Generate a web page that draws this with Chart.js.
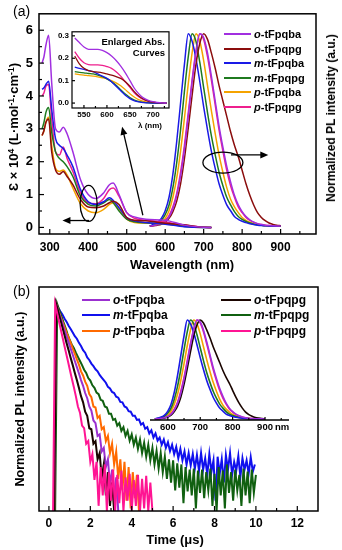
<!DOCTYPE html>
<html>
<head>
<meta charset="utf-8">
<script src="https://cdn.jsdelivr.net/npm/chart.js@4.4.0/dist/chart.umd.min.js"></script>
<style>
body { margin: 0; background: #fff; font-family: "Liberation Sans", Arial, sans-serif; }
#wrap { position: relative; width: 342px; height: 550px; overflow: hidden; }
canvas { position: absolute; }
.t { position: absolute; white-space: nowrap; color: #000; }
.b { font-weight: bold; }
.rot { transform: translate(-50%, -50%) rotate(-90deg); }
.ctr { transform: translate(-50%, -50%); }
.leg { position: absolute; font-weight: bold; white-space: nowrap; display: flex; align-items: center; transform: translateY(-50%); }
sup { font-size: 65%; vertical-align: 0; position: relative; top: -0.5em; }
</style>
</head>
<body>
<div id="wrap">
  <canvas id="absChart" width="342" height="275" style="left:0;top:0"></canvas>
  <canvas id="insetA" width="128" height="106" style="left:50px;top:24px"></canvas>
  <canvas id="decayChart" width="342" height="275" style="left:0;top:275px"></canvas>
  <canvas id="insetB" width="160" height="130" style="left:140px;top:310px"></canvas>

  <div class="t" style="left:13px;top:3px;font-size:14px">(a)</div>
  <div class="t" style="left:13px;top:283px;font-size:14px">(b)</div>
  <div class="t b rot" style="left:13px;top:127px;font-size:13px">Ɛ × 10<sup>4</sup> (L·mol<sup>-1</sup>·cm<sup>-1</sup>)</div>
  <div class="t b rot" style="left:331px;top:118px;font-size:12px">Normalized PL intensity (a.u.)</div>
  <div class="t b ctr" style="left:182px;top:264px;font-size:13px">Wavelength (nm)</div>
  <div class="t b rot" style="left:20px;top:399px;font-size:12.5px">Normalized PL intensity (a.u.)</div>
  <div class="t b ctr" style="left:175px;top:539px;font-size:13px">Time (μs)</div>
  <div class="t b" style="right:177px;top:36px;font-size:9.5px;text-align:right;line-height:11px">Enlarged Abs.<br>Curves</div>
  <div class="t b ctr" style="left:150px;top:125px;font-size:8px">λ (nm)</div>
  <div class="t b" style="left:275px;top:421px;font-size:9.5px">nm</div>
</div>
<script>
const names = ['o-tFpqba', 'o-tFpqpg', 'm-tFpqba', 'm-tFpqpg', 'p-tFpqba', 'p-tFpqpg'];
const colorsA = ['#a12fe0', '#8b0d0d', '#1a1ae6', '#1f7a1f', '#f5a300', '#ee1f8d'];
const colorsB = ['#9b30d0', '#1a0500', '#1010ee', '#106010', '#ff6a00', '#ff1493'];
const colorsInsetB = ['#a12fe0', '#1a0500', '#1a1ae6', '#1f7a1f', '#f5a300', '#ee1f8d'];

// absorption, main panel (a)
const absWl = [280, 285, 290, 297, 305, 315, 325, 335, 345, 360, 380, 400, 420, 440, 455, 465, 480, 500, 520, 550, 600, 650, 700, 720];
const absOba = [5.0, 5.2, 5.55, 5.85, 4.4, 3.0, 2.9, 3.05, 2.85, 2.3, 1.45, 1.0, 0.88, 1.05, 1.3, 1.35, 1.0, 0.45, 0.32, 0.25, 0.22, 0.07, 0.005, 0];
const absOpg = [2.8, 2.95, 3.2, 3.3, 2.3, 1.75, 1.62, 1.7, 1.55, 1.3, 0.85, 0.62, 0.6, 0.65, 0.75, 0.8, 0.7, 0.3, 0.22, 0.2, 0.13, 0.08, 0.005, 0];
const absMba = [4.2, 4.25, 4.35, 4.45, 3.6, 2.7, 2.5, 2.4, 2.2, 1.85, 1.15, 0.78, 0.7, 0.78, 0.9, 0.82, 0.6, 0.3, 0.2, 0.15, 0.1, 0.02, 0, 0];
const absMpg = [3.0, 3.2, 3.5, 3.65, 2.9, 2.3, 2.1, 2.0, 1.85, 1.55, 0.95, 0.7, 0.65, 0.75, 0.85, 0.75, 0.5, 0.25, 0.17, 0.14, 0.11, 0.03, 0, 0];
const absPba = [2.8, 2.95, 3.2, 3.35, 2.5, 1.8, 1.7, 1.75, 1.6, 1.2, 0.72, 0.5, 0.45, 0.55, 0.7, 0.75, 0.55, 0.25, 0.15, 0.13, 0.11, 0.05, 0.003, 0];
const absPpg = [4.0, 4.1, 4.3, 4.35, 3.3, 2.3, 2.2, 2.45, 2.1, 1.7, 1.05, 0.75, 0.72, 0.88, 1.15, 1.2, 0.95, 0.45, 0.28, 0.22, 0.16, 0.07, 0.005, 0];
const absData = [absOba, absOpg, absMba, absMpg, absPba, absPpg];

// normalized PL spectra (panel a and inset of panel b)
const plWl = [560, 570, 580, 590, 600, 610, 620, 630, 640, 650, 660, 670, 680, 690, 700, 710, 720, 730, 740, 750, 760, 770, 780, 790, 800, 810, 820, 830, 840, 850, 860, 870, 880, 890, 900];
const plOba = [0, 0.003, 0.007, 0.013, 0.025, 0.048, 0.09, 0.16, 0.26, 0.4, 0.57, 0.75, 0.9, 1.0, 0.98, 0.9, 0.78, 0.65, 0.52, 0.41, 0.31, 0.23, 0.16, 0.11, 0.075, 0.05, 0.033, 0.021, 0.013, 0.008, 0.005, 0.003, 0.002, 0.001, 0];
const plOpg = [0, 0.002, 0.005, 0.01, 0.02, 0.04, 0.075, 0.13, 0.22, 0.35, 0.51, 0.68, 0.84, 0.95, 1.0, 0.97, 0.9, 0.82, 0.73, 0.65, 0.57, 0.49, 0.42, 0.36, 0.29, 0.22, 0.16, 0.11, 0.07, 0.045, 0.028, 0.016, 0.009, 0.004, 0.002];
const plMba = [0, 0.01, 0.02, 0.04, 0.08, 0.15, 0.27, 0.44, 0.64, 0.84, 1.0, 0.96, 0.87, 0.75, 0.62, 0.5, 0.39, 0.3, 0.22, 0.16, 0.11, 0.08, 0.05, 0.035, 0.025, 0.018, 0.012, 0.008, 0.005, 0.003, 0.002, 0.001, 0, 0, 0];
const plMpg = [0, 0.005, 0.015, 0.03, 0.06, 0.11, 0.2, 0.33, 0.5, 0.7, 0.88, 1.0, 0.96, 0.85, 0.72, 0.59, 0.47, 0.37, 0.28, 0.21, 0.15, 0.11, 0.075, 0.05, 0.035, 0.024, 0.016, 0.01, 0.006, 0.004, 0.002, 0.001, 0, 0, 0];
const plPba = [0, 0.004, 0.01, 0.02, 0.04, 0.08, 0.15, 0.25, 0.39, 0.56, 0.74, 0.9, 1.0, 0.96, 0.86, 0.73, 0.6, 0.48, 0.37, 0.28, 0.2, 0.14, 0.1, 0.07, 0.045, 0.03, 0.02, 0.013, 0.008, 0.005, 0.003, 0.001, 0, 0, 0];
const plPpg = [0, 0.003, 0.008, 0.015, 0.03, 0.055, 0.1, 0.17, 0.28, 0.42, 0.59, 0.76, 0.91, 1.0, 0.97, 0.88, 0.76, 0.63, 0.5, 0.39, 0.29, 0.21, 0.15, 0.1, 0.07, 0.045, 0.03, 0.02, 0.012, 0.008, 0.005, 0.003, 0.002, 0.001, 0];
const plData = [plOba, plOpg, plMba, plMpg, plPba, plPpg];

// enlarged absorption (inset of a)
const insetWl = [530, 540, 550, 560, 570, 580, 590, 600, 610, 620, 630, 640, 650, 660, 670, 680, 690, 700, 710, 720, 730];
const insOba = [0.29, 0.27, 0.25, 0.24, 0.24, 0.24, 0.235, 0.225, 0.21, 0.19, 0.165, 0.135, 0.1, 0.065, 0.04, 0.022, 0.012, 0.006, 0.003, 0.001, 0];
const insOpg = [0.21, 0.175, 0.155, 0.145, 0.14, 0.138, 0.135, 0.13, 0.125, 0.118, 0.11, 0.095, 0.075, 0.05, 0.03, 0.017, 0.009, 0.004, 0.002, 0.001, 0];
const insMba = [0.16, 0.155, 0.15, 0.145, 0.14, 0.13, 0.12, 0.11, 0.095, 0.075, 0.055, 0.035, 0.02, 0.01, 0.005, 0.002, 0.001, 0, 0, 0, 0];
const insMpg = [0.14, 0.137, 0.135, 0.132, 0.13, 0.125, 0.118, 0.108, 0.095, 0.08, 0.06, 0.04, 0.025, 0.013, 0.006, 0.003, 0.001, 0, 0, 0, 0];
const insPba = [0.13, 0.127, 0.125, 0.122, 0.12, 0.117, 0.113, 0.108, 0.1, 0.09, 0.077, 0.06, 0.042, 0.026, 0.014, 0.007, 0.003, 0.001, 0, 0, 0];
const insPpg = [0.23, 0.2, 0.18, 0.172, 0.17, 0.17, 0.168, 0.163, 0.155, 0.14, 0.12, 0.095, 0.07, 0.045, 0.027, 0.015, 0.008, 0.004, 0.002, 0.001, 0];
const insData = [insOba, insOpg, insMba, insMpg, insPba, insPpg];

// PL decays (b): log10 of counts, one sample every 0.1 us from the start time
const decayStep = 0.1;
const decayStart = [0.25, 0.25, 0.25, 0.3, 0.25, 0.2];
const decOba = [0, 4.00, 3.87, 3.75, 3.63, 3.50, 3.38, 3.26, 3.14, 3.02, 2.90, 2.78, 2.66, 2.53, 2.42, 2.28, 2.18, 2.02, 1.94, 1.75, 1.70, 1.45, 1.48, 1.15, 1.22, 0.85, 1.00, 0.50, 0.80, 0.20, 0.65, 0];
const decOpg = [0, 4.00, 3.85, 3.70, 3.55, 3.40, 3.25, 3.11, 2.96, 2.82, 2.67, 2.53, 2.38, 2.22, 2.10, 1.92, 1.84, 1.60, 1.58, 1.30, 1.35, 1.00, 1.12, 0.65, 0.90, 0.30, 0.75, 0.10, 0.55, 0];
const decMba = [0, 4.00, 3.93, 3.86, 3.80, 3.72, 3.66, 3.58, 3.52, 3.45, 3.38, 3.33, 3.25, 3.19, 3.11, 3.06, 2.97, 2.92, 2.85, 2.80, 2.74, 2.70, 2.63, 2.58, 2.53, 2.48, 2.40, 2.37, 2.30, 2.28, 2.21, 2.19, 2.11, 2.10, 2.02, 2.00, 1.93, 1.92, 1.84, 1.84, 1.76, 1.77, 1.67, 1.70, 1.59, 1.62, 1.50, 1.56, 1.42, 1.50, 1.36, 1.42, 1.28, 1.38, 1.22, 1.33, 1.16, 1.28, 1.10, 1.24, 1.02, 1.20, 0.98, 1.15, 0.90, 1.12, 0.88, 1.10, 0.82, 1.08, 0.78, 1.12, 0.80, 1.02, 0.70, 1.10, 0.76, 0.98, 0.20, 1.05, 0.72, 1.00, 0.55, 1.08, 0.80, 1.12, 0.70, 0.95, 0.78, 1.06, 0.66, 1.02, 0.80, 0.98, 0.72, 1.04, 0.76, 0.90];
const decMpg = [0, 4.00, 3.88, 3.77, 3.65, 3.54, 3.42, 3.31, 3.22, 3.15, 3.06, 2.98, 2.90, 2.82, 2.73, 2.67, 2.57, 2.52, 2.43, 2.38, 2.29, 2.26, 2.15, 2.13, 2.02, 2.00, 1.88, 1.88, 1.76, 1.78, 1.65, 1.70, 1.55, 1.62, 1.45, 1.55, 1.36, 1.48, 1.28, 1.42, 1.20, 1.38, 1.12, 1.32, 1.05, 1.28, 0.98, 1.22, 0.90, 1.16, 0.82, 1.12, 0.75, 1.05, 0.62, 1.00, 0.55, 0.98, 0.40, 0.92, 0.45, 0.90, 0.15, 0.85, 0.38, 0.80, 0.30, 0.82, 0.05, 0.78, 0.35, 0.80, 0.25, 0.75, 0.40, 0.82, 0.10, 0.72, 0, 0.85, 0.30, 0.78, 0.05, 0.90, 0.35, 0.75, 0.20, 0.80, 0.40, 0.70, 0.10, 0.82, 0.30, 0.76, 0.15, 0.80, 0.35, 0.70];
const decPba = [0, 4.00, 3.88, 3.77, 3.66, 3.56, 3.45, 3.35, 3.25, 3.14, 3.04, 2.93, 2.83, 2.70, 2.62, 2.50, 2.42, 2.26, 2.20, 2.02, 2.00, 1.80, 1.84, 1.58, 1.62, 1.35, 1.45, 1.12, 1.30, 0.90, 1.15, 0.62, 1.00, 0.40, 0.95, 0.20, 0.85, 0.05, 0.75, 0.25, 0.70, 0];
const decPpg = [0, 4.00, 3.82, 3.64, 3.46, 3.28, 3.10, 2.93, 2.75, 2.57, 2.40, 2.22, 2.02, 1.90, 1.65, 1.60, 1.30, 1.35, 0.95, 1.10, 0.60, 0.95, 0.10, 0.85, 0.30, 0.90, 0, 0.75, 0.20, 0.80, 0, 0.70, 0.15, 0.78, 0, 0.65, 0.20, 0.72, 0, 0.60, 0.10, 0.70, 0, 0.62, 0.05, 0.68, 0, 0.55, 0];
const decData = [decOba, decOpg, decMba, decMpg, decPba, decPpg];
const decayOrder = [2, 1, 5, 4, 3, 0]; // pink on top, blue at the back

const ticksA = [300, 400, 500, 600, 700, 800, 900];
const ticksAy = [0, 1, 2, 3, 4, 5, 6];
const ticksInsetX = [550, 600, 650, 700];
const ticksInsetY = [0, 0.1, 0.2, 0.3];
const ticksB = [0, 2, 4, 6, 8, 10, 12];
const ticksInsetB = [600, 700, 800, 900];

Chart.defaults.font.family = '"Liberation Sans", Arial, sans-serif';
Chart.defaults.color = '#000';

const xy = (xs, ys) => ys.map((v, i) => ({ x: xs[i], y: v }));
const noGrid = { display: false, drawTicks: false };

// box + inward ticks
const frame = {
  id: 'frame',
  afterDatasetsDraw(chart, args, o) {
    const { ctx, chartArea: a, scales } = chart;
    ctx.save();
    ctx.strokeStyle = '#000';
    ctx.lineWidth = o.lw || 1.5;
    if (o.box) ctx.strokeRect(a.left, a.top, a.right - a.left, a.bottom - a.top);
    else { ctx.beginPath(); ctx.moveTo(a.left, a.bottom); ctx.lineTo(a.right, a.bottom); ctx.stroke(); }
    ctx.lineWidth = 1.2;
    const seg = (x1, y1, x2, y2) => { ctx.beginPath(); ctx.moveTo(x1, y1); ctx.lineTo(x2, y2); ctx.stroke(); };
    (o.xMajor || []).forEach(v => { const x = scales.x.getPixelForValue(v); seg(x, a.bottom, x, a.bottom - o.major); });
    (o.xMinor || []).forEach(v => { const x = scales.x.getPixelForValue(v); seg(x, a.bottom, x, a.bottom - o.minor); });
    (o.yMajor || []).forEach(v => { const y = scales.y.getPixelForValue(v); seg(a.left, y, a.left + o.major, y); });
    (o.yMinor || []).forEach(v => { const y = scales.y.getPixelForValue(v); seg(a.left, y, a.left + o.minor, y); });
    ctx.restore();
  }
};

// ellipses and arrows of panel (a)
const marks = {
  id: 'marks',
  afterDatasetsDraw(chart, args, o) {
    if (!o.ellipses) return;
    const { ctx, scales } = chart;
    ctx.save();
    ctx.strokeStyle = '#000';
    ctx.fillStyle = '#000';
    ctx.lineWidth = 1.3;
    o.ellipses.forEach(e => {
      const cx = scales.x.getPixelForValue(e.x), cy = scales[e.axis].getPixelForValue(e.y);
      ctx.beginPath(); ctx.ellipse(cx, cy, e.rx, e.ry, 0, 0, Math.PI * 2); ctx.stroke();
    });
    o.arrows.forEach(r => {
      const x1 = scales.x.getPixelForValue(r.x1), y1 = scales[r.axis].getPixelForValue(r.y1);
      const x2 = scales.x.getPixelForValue(r.x2), y2 = scales[r.axis].getPixelForValue(r.y2);
      const ang = Math.atan2(y2 - y1, x2 - x1);
      ctx.beginPath(); ctx.moveTo(x1, y1); ctx.lineTo(x2 - 6 * Math.cos(ang), y2 - 6 * Math.sin(ang)); ctx.stroke();
      ctx.beginPath();
      ctx.moveTo(x2, y2);
      ctx.lineTo(x2 - 8 * Math.cos(ang) + 3.5 * Math.sin(ang), y2 - 8 * Math.sin(ang) - 3.5 * Math.cos(ang));
      ctx.lineTo(x2 - 8 * Math.cos(ang) - 3.5 * Math.sin(ang), y2 - 8 * Math.sin(ang) + 3.5 * Math.cos(ang));
      ctx.closePath(); ctx.fill();
    });
    ctx.restore();
  }
};

const lineDs = (data, color, width, extra) => Object.assign({
  data, borderColor: color, borderWidth: width, pointRadius: 0, fill: false,
  cubicInterpolationMode: 'monotone'
}, extra || {});

// panel (a)
const dsA = [];
absData.forEach((ys, i) => dsA.push(lineDs(xy(absWl, ys), colorsA[i], 1.5, { yAxisID: 'y' })));
plData.forEach((ys, i) => dsA.push(lineDs(xy(plWl, ys), colorsA[i], 1.5, { yAxisID: 'y2' })));

new Chart(document.getElementById('absChart'), {
  type: 'line',
  data: { datasets: dsA },
  plugins: [frame, marks],
  options: {
    responsive: false, animation: false, events: [],
    layout: { padding: { top: 12, right: 0, left: 0, bottom: 0 } },
    plugins: {
      legend: { display: false }, tooltip: { enabled: false },
      frame: { box: true, major: 5, minor: 3,
        xMajor: ticksA, xMinor: [350, 450, 550, 650, 750, 850, 950],
        yMajor: ticksAy, yMinor: [0.5, 1.5, 2.5, 3.5, 4.5, 5.5] },
      marks: {
        ellipses: [
          { x: 401, y: 0.73, axis: 'y', rx: 8.5, ry: 18 },
          { x: 750, y: 0.33, axis: 'y2', rx: 20, ry: 10.5 }
        ],
        arrows: [
          { x1: 402, y1: 0.21, x2: 333, y2: 0.21, axis: 'y' },
          { x1: 771, y1: 0.37, x2: 868, y2: 0.37, axis: 'y2' },
          { x1: 542, y1: 0.37, x2: 488, y2: 3.06, axis: 'y' }
        ]
      }
    },
    scales: {
      x: { type: 'linear', min: 272, max: 992,
        grid: noGrid, border: { display: false },
        afterBuildTicks: s => { s.ticks = ticksA.map(v => ({ value: v })); },
        afterFit: s => { s.height = 41; },
        ticks: { font: { size: 12, weight: 'bold' }, padding: 6, maxRotation: 0 } },
      y: { min: -0.2, max: 6.5, position: 'left',
        grid: noGrid, border: { display: false },
        afterBuildTicks: s => { s.ticks = ticksAy.map(v => ({ value: v })); },
        afterFit: s => { s.width = 39; },
        ticks: { font: { size: 13, weight: 'bold' }, padding: 6 } },
      y2: { min: -0.041, max: 1.103, position: 'right',
        grid: noGrid, border: { display: false },
        afterFit: s => { s.width = 26; },
        ticks: { display: false } }
    }
  }
});

// inset of (a)
new Chart(document.getElementById('insetA'), {
  type: 'line',
  data: { datasets: insData.map((ys, i) => lineDs(xy(insetWl, ys), colorsA[i], 1.3)) },
  plugins: [frame],
  options: {
    responsive: false, animation: false, events: [],
    layout: { padding: { top: 7, right: 9, left: 0, bottom: 0 } },
    plugins: { legend: { display: false }, tooltip: { enabled: false },
      frame: { box: true, lw: 1.2, major: 3, minor: 2, xMajor: ticksInsetX, xMinor: [575, 625, 675, 725], yMajor: ticksInsetY } },
    scales: {
      x: { type: 'linear', min: 524, max: 735,
        grid: noGrid, border: { display: false },
        afterBuildTicks: s => { s.ticks = ticksInsetX.map(v => ({ value: v })); },
        afterFit: s => { s.height = 22; },
        ticks: { font: { size: 8, weight: 'bold' }, padding: 2, maxRotation: 0 } },
      y: { min: -0.022, max: 0.318,
        grid: noGrid, border: { display: false },
        afterBuildTicks: s => { s.ticks = ticksInsetY.map(v => ({ value: v })); },
        afterFit: s => { s.width = 22; },
        ticks: { font: { size: 8, weight: 'bold' }, padding: 3, callback: v => v.toFixed(1) } }
    }
  }
});

// panel (b)
const dsB = decData.map((ys, i) => lineDs(
  ys.map((v, k) => ({ x: decayStart[i] + k * decayStep, y: v })),
  colorsB[i], 2, { order: decayOrder[i], cubicInterpolationMode: 'default', tension: 0 }));

new Chart(document.getElementById('decayChart'), {
  type: 'line',
  data: { datasets: dsB },
  plugins: [frame],
  options: {
    responsive: false, animation: false, events: [],
    layout: { padding: { top: 12, right: 24, left: 0, bottom: 0 } },
    plugins: { legend: { display: false }, tooltip: { enabled: false },
      frame: { box: true, major: 5, minor: 3, xMajor: ticksB, xMinor: [1, 3, 5, 7, 9, 11] } },
    scales: {
      x: { type: 'linear', min: -0.48, max: 13.0,
        grid: noGrid, border: { display: false },
        afterBuildTicks: s => { s.ticks = ticksB.map(v => ({ value: v })); },
        afterFit: s => { s.height = 39; },
        ticks: { font: { size: 12, weight: 'bold' }, padding: 5, maxRotation: 0 } },
      y: { min: 0, max: 4.33,
        grid: noGrid, border: { display: false },
        afterFit: s => { s.width = 39; },
        ticks: { display: false } }
    }
  }
});

// inset of (b)
new Chart(document.getElementById('insetB'), {
  type: 'line',
  data: { datasets: plData.map((ys, i) => lineDs(xy(plWl, ys), colorsInsetB[i], 1.6)) },
  plugins: [frame],
  options: {
    responsive: false, animation: false, events: [],
    layout: { padding: { top: 8, right: 11, left: 10, bottom: 0 } },
    plugins: { legend: { display: false }, tooltip: { enabled: false },
      frame: { box: false, lw: 1.3, major: 3, minor: 2, xMajor: ticksInsetB, xMinor: [650, 750, 850, 950] } },
    scales: {
      x: { type: 'linear', min: 545, max: 974,
        grid: noGrid, border: { display: false },
        afterBuildTicks: s => { s.ticks = ticksInsetB.map(v => ({ value: v })); },
        afterFit: s => { s.height = 20; },
        ticks: { font: { size: 9.5, weight: 'bold' }, padding: 2, maxRotation: 0 } },
      y: { display: false, min: -0.01, max: 1.02 }
    }
  }
});

// legends
const wrap = document.getElementById('wrap');
function legendItem(left, top, color, name, size, lineW) {
  const d = document.createElement('div');
  d.className = 'leg';
  d.style.cssText = `left:${left}px;top:${top}px;font-size:${size}px;`;
  d.innerHTML = `<span style="display:inline-block;width:${lineW}px;border-top:2px solid ${color};margin-right:3px"></span><span><i>${name[0]}</i>${name.slice(1)}</span>`;
  wrap.appendChild(d);
}
const legARows = [34, 49, 63, 78, 92, 107];
names.forEach((n, i) => legendItem(224, legARows[i], colorsA[i], n, 11, 27));
const legBRows = [300, 300, 315, 315, 331, 331];
const legBLeft = [82, 221, 82, 221, 82, 221];
const legBLine = [28, 30, 28, 30, 28, 30];
names.forEach((n, i) => legendItem(legBLeft[i], legBRows[i], colorsB[i], n, 12, legBLine[i]));
</script>
</body>
</html>
